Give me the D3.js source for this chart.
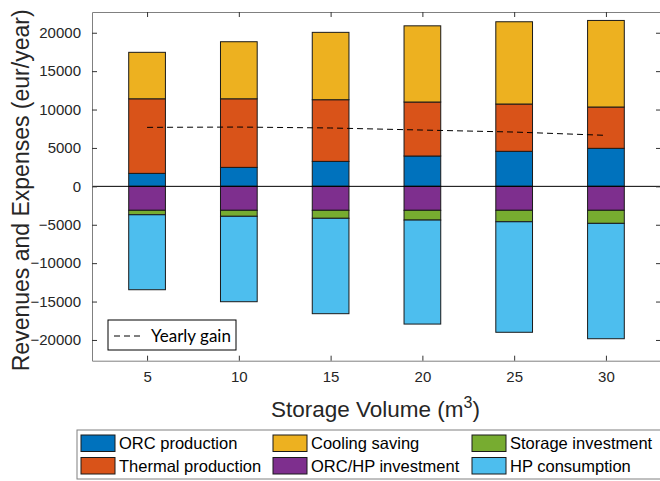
<!DOCTYPE html>
<html>
<head>
<meta charset="utf-8">
<script src="https://cdn.jsdelivr.net/npm/d3@7"></script>
<style>
body { margin: 0; background: #fff; }
svg { display: block; font-family: "Liberation Sans", Arial, sans-serif; }
</style>
</head>
<body>
<svg id="chart" width="660" height="481"></svg>
<script>
// data
var volumes = [5, 10, 15, 20, 25, 30];
var orcProduction = [1690, 2470, 3250, 3950, 4560, 4950];
var thermalProduction = [9710, 8930, 8030, 7030, 6160, 5380];
var coolingSaving = [6050, 7430, 8770, 9920, 10710, 11270];
var orcHpInvestment = [-3120, -3120, -3120, -3120, -3120, -3120];
var storageInvestment = [-580, -780, -1040, -1270, -1490, -1700];
var hpConsumption = [-9760, -11120, -12420, -13540, -14390, -15020];
var yearlyGain = [7680, 7720, 7600, 7330, 7070, 6640];
var yTicks = [-20000, -15000, -10000, -5000, 0, 5000, 10000, 15000, 20000];

var series = [
    { name: "ORC production", values: orcProduction, color: "#0072BD" },
    { name: "Thermal production", values: thermalProduction, color: "#D95319" },
    { name: "Cooling saving", values: coolingSaving, color: "#EDB120" },
    { name: "ORC/HP investment", values: orcHpInvestment, color: "#7E2F8E" },
    { name: "Storage investment", values: storageInvestment, color: "#77AC30" },
    { name: "HP consumption", values: hpConsumption, color: "#4DBEEE" }
];

var svg = d3.select("#chart");
var pLeft = 92, pTop = 12, pRight = 661, pBottom = 360.7;

var x = d3.scaleLinear().domain([2, 33]).range([pLeft, pRight]);
var y = d3.scaleLinear().domain([-22700, 22700]).range([pBottom, pTop]);

// stack positives up and negatives down
var posBase = volumes.map(function () { return 0; });
var negBase = volumes.map(function () { return 0; });
var rects = [];
series.forEach(function (s) {
    s.values.forEach(function (v, i) {
        var y0, y1;
        if (v >= 0) { y0 = posBase[i]; y1 = y0 + v; posBase[i] = y1; }
        else { y0 = negBase[i]; y1 = y0 + v; negBase[i] = y1; }
        rects.push({ vol: volumes[i], y0: y0, y1: y1, color: s.color });
    });
});

var g = svg.append("g");

g.selectAll("rect.bar")
    .data(rects)
    .enter()
    .append("rect")
    .attr("class", "bar")
    .attr("x", function (d) { return x(d.vol - 1); })
    .attr("width", function (d) { return x(d.vol + 1) - x(d.vol - 1); })
    .attr("y", function (d) { return y(Math.max(d.y0, d.y1)); })
    .attr("height", function (d) { return Math.abs(y(d.y0) - y(d.y1)); })
    .attr("fill", function (d) { return d.color; })
    .attr("stroke", "#1a1a1a")
    .attr("stroke-width", 1);

// zero line
g.append("line")
    .attr("x1", pLeft).attr("x2", pRight)
    .attr("y1", y(0)).attr("y2", y(0))
    .attr("stroke", "#000").attr("stroke-width", 1);

// yearly gain
var line = d3.line()
    .x(function (d, i) { return x(volumes[i]); })
    .y(function (d) { return y(d); });
g.append("path")
    .attr("d", line(yearlyGain))
    .attr("fill", "none")
    .attr("stroke", "#000")
    .attr("stroke-width", 1)
    .attr("stroke-dasharray", "6,4");

// axes, ticks pointing inward like matlab
var axisColor = "#808080";
function styleAxis(sel) {
    sel.select(".domain").attr("stroke", axisColor);
    sel.selectAll(".tick line").attr("stroke", "#333");
    sel.selectAll(".tick text").attr("fill", "#262626").style("font-size", "15px");
}

var xb = svg.append("g").attr("transform", "translate(0," + pBottom + ")")
    .call(d3.axisBottom(x).tickValues(volumes).tickSizeInner(-5).tickSizeOuter(0).tickPadding(11));
styleAxis(xb);
var xt = svg.append("g").attr("transform", "translate(0," + pTop + ")")
    .call(d3.axisTop(x).tickValues(volumes).tickSizeInner(-5).tickSizeOuter(0).tickFormat(""));
styleAxis(xt);
var yl = svg.append("g").attr("transform", "translate(" + pLeft + ",0)")
    .call(d3.axisLeft(y).tickValues(yTicks).tickSizeInner(-5).tickSizeOuter(0).tickPadding(11).tickFormat(d3.format("d")));
styleAxis(yl);
var yr = svg.append("g").attr("transform", "translate(" + pRight + ",0)")
    .call(d3.axisRight(y).tickValues(yTicks).tickSizeInner(-5).tickSizeOuter(0).tickFormat(""));
styleAxis(yr);

// axis titles
svg.append("text")
    .attr("transform", "translate(29," + ((pTop + pBottom) / 2 + 4) + ") rotate(-90)")
    .attr("text-anchor", "middle")
    .attr("fill", "#262626")
    .style("font-size", "23px")
    .text("Revenues and Expenses (eur/year)");

var xt2 = svg.append("text")
    .attr("x", (pLeft + 659) / 2)
    .attr("y", 417)
    .attr("text-anchor", "middle")
    .attr("fill", "#262626")
    .style("font-size", "22.5px");
xt2.append("tspan").text("Storage Volume (m");
xt2.append("tspan").attr("dy", -9).style("font-size", "16px").text("3");
xt2.append("tspan").attr("dy", 9).text(")");

// yearly gain legend
var lg = svg.append("g");
lg.append("rect")
    .attr("x", 108).attr("y", 320).attr("width", 128).attr("height", 30)
    .attr("fill", "#fff").attr("stroke", "#000").attr("stroke-width", 1);
lg.append("line")
    .attr("x1", 114).attr("x2", 144).attr("y1", 336).attr("y2", 336)
    .attr("stroke", "#000").attr("stroke-dasharray", "6,4");
lg.append("text")
    .attr("x", 151).attr("y", 342)
    .style("font-family", "Lato, 'Open Sans', sans-serif")
    .style("font-size", "17px")
    .attr("fill", "#000")
    .text("Yearly gain");

// series legend, three columns of two
var leg = svg.append("g");
leg.append("rect")
    .attr("x", 77).attr("y", 430).attr("width", 590).attr("height", 49)
    .attr("fill", "#fff").attr("stroke", "#808080").attr("stroke-width", 1);
var colX = [81, 273, 472];
var rowY = [435, 457.5];
series.forEach(function (s, k) {
    var c = Math.floor(k / 2), r = k % 2;
    leg.append("rect")
        .attr("x", colX[c]).attr("y", rowY[r])
        .attr("width", 34).attr("height", 16.5)
        .attr("fill", s.color).attr("stroke", "#1a1a1a");
    leg.append("text")
        .attr("x", colX[c] + 38).attr("y", rowY[r] + 14)
        .attr("fill", "#000")
        .style("font-size", "16.5px")
        .text(s.name);
});
</script>
</body>
</html>
